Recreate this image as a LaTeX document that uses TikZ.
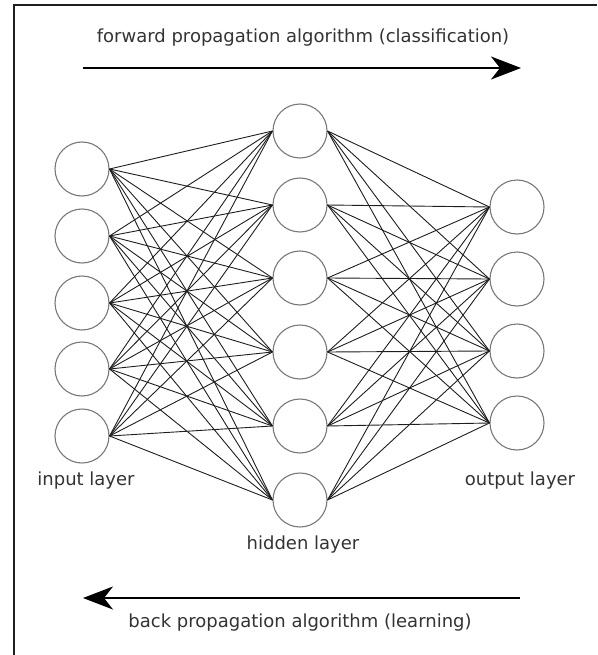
\documentclass[tikz,border=0pt]{standalone}
\usepackage{fontspec}
\setmainfont{DejaVu Sans}
\usetikzlibrary{arrows.meta}
\definecolor{netDarkGrey}{RGB}{30,30,30}
\definecolor{netTextGrey}{RGB}{51,51,51}
\definecolor{netRingGrey}{RGB}{120,120,120}
\tikzset{
  neuron/.style={circle,draw=netRingGrey,line width=1.1pt,minimum size=54pt,inner sep=0pt},
  weight/.style={draw=netDarkGrey,line width=0.9pt},
  caption/.style={text=netTextGrey,font=\fontsize{18}{21}\selectfont,inner sep=0pt},
  flow/.style={draw=black,line width=2pt,-{Stealth[length=30pt,width=23pt,inset=9pt]}},
}
\begin{document}
\begin{tikzpicture}[x=1pt,y=-1pt]

  \useasboundingbox (0,0) rectangle (597,655);
  % frame
  \draw[netDarkGrey,line width=2.5pt] (597,5) -- (14,5) -- (14,655);

  % layers
  \foreach \n/\y in {1/169,2/236,3/303,4/369,5/436}
    \node[neuron] (i\n) at (82,\y) {};
  \foreach \n/\y in {1/131,2/205,3/278,4/352,5/426,6/500}
    \node[neuron] (h\n) at (300,\y) {};
  \foreach \n/\y in {1/207,2/279,3/351,4/423}
    \node[neuron] (o\n) at (517,\y) {};

  % weights
  \foreach \a in {1,...,5}
    \foreach \b in {1,...,6}
      \draw[weight] (i\a.east) -- (h\b.west);
  \foreach \a in {1,...,6}
    \foreach \b in {1,...,4}
      \draw[weight] (h\a.east) -- (o\b.west);

  % labels
  \node[caption] (inlbl) at (86,481) {input layer};
  \node[caption] (hidlbl) at (303,545) {hidden layer};
  \node[caption] (outlbl) at (520,481) {output layer};

  % propagation arrows
  \coordinate (fwdA) at (83,68);
  \coordinate (fwdB) at (521,68);
  \coordinate (backA) at (520,598);
  \coordinate (backB) at (83,598);
  \draw[flow] (fwdA) -- (fwdB);
  \draw[flow] (backA) -- (backB);
  \node[caption] (fwdlbl) at (303,38) {forward propagation algorithm (classification)};
  \node[caption] (backlbl) at (300,623) {back propagation algorithm (learning)};

\end{tikzpicture}
\end{document}
